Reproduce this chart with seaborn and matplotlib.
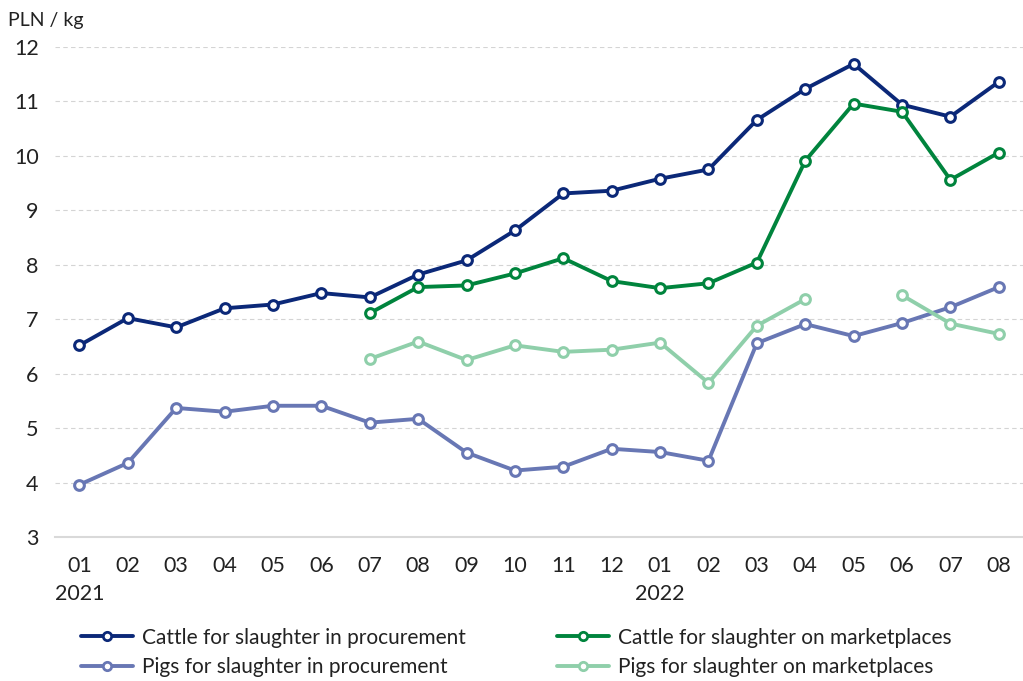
import numpy as np
import pandas as pd
import seaborn as sns
import matplotlib.pyplot as plt
from matplotlib.lines import Line2D

months = ['01', '02', '03', '04', '05', '06', '07', '08', '09', '10', '11', '12',
          '01', '02', '03', '04', '05', '06', '07', '08']
years = {0: '2021', 12: '2022'}

cattle_proc = [6.52, 7.02, 6.85, 7.20, 7.27, 7.48, 7.40, 7.82, 8.08, 8.63,
               9.31, 9.36, 9.58, 9.75, 10.66, 11.23, 11.69, 10.94, 10.72, 11.36]
cattle_market = [np.nan] * 6 + [7.11, 7.59, 7.62, 7.84, 8.12, 7.70, 7.57, 7.66,
                                8.04, 9.91, 10.96, 10.81, 9.56, 10.06]
pigs_proc = [3.96, 4.36, 5.37, 5.30, 5.41, 5.41, 5.10, 5.17, 4.55, 4.22,
             4.29, 4.62, 4.56, 4.40, 6.56, 6.91, 6.69, 6.93, 7.22, 7.59]
pigs_market = [np.nan] * 6 + [6.27, 6.59, 6.25, 6.52, 6.40, 6.44, 6.57, 5.83,
                              6.88, 7.37, np.nan, 7.44, 6.92, 6.73]

series = [
    ('Cattle for slaughter in procurement', cattle_proc, '#0b2878'),
    ('Cattle for slaughter on marketplaces', cattle_market, '#00843d'),
    ('Pigs for slaughter in procurement', pigs_proc, '#6877b4'),
    ('Pigs for slaughter on marketplaces', pigs_market, '#8fcfaa'),
]

sns.set_style('white')
plt.rcParams['font.family'] = ['Lato', 'DejaVu Sans']
plt.rcParams['text.color'] = '#222222'

fig = plt.figure(figsize=(10.23, 6.81), dpi=100)
ax = fig.add_axes([0.054, 0.2115, 0.946, 0.7195])

x = np.arange(len(months))
handles = {}
for name, vals, col in series:
    df = pd.DataFrame({'x': x, 'y': vals})
    # split into segments wherever there is a gap
    df['seg'] = df['y'].isna().cumsum()
    df = df.dropna()
    sns.lineplot(data=df, x='x', y='y', units='seg', estimator=None, ax=ax,
                 color=col, linewidth=2.8, marker='o', markersize=7,
                 markerfacecolor='white', markeredgecolor=col, markeredgewidth=2.2)
    handles[name] = Line2D([], [], color=col, linewidth=2.8, marker='o', markersize=6,
                           markerfacecolor='white', markeredgecolor=col,
                           markeredgewidth=2, label=name)

ax.set_xlim(-0.5, len(months) - 0.5)
ax.set_ylim(3, 12)
ax.set_yticks(range(3, 13))
ax.set_xticks(x)
ax.set_xticklabels([m + ('\n' + years[i] if i in years else '') for i, m in enumerate(months)],
                   linespacing=1.45)
ax.tick_params(axis='both', labelsize=15.5, length=0, colors='#222222')
ax.tick_params(axis='x', pad=14)
ax.tick_params(axis='y', pad=12)
ax.set_xlabel('')
ax.set_ylabel('')

ax.grid(axis='y', linestyle=(0, (4, 3)), color='#d4d4d4', linewidth=0.8)
ax.set_axisbelow(True)
for s in ['top', 'right', 'left']:
    ax.spines[s].set_visible(False)
ax.spines['bottom'].set_color('#d9d9d9')
ax.spines['bottom'].set_linewidth(1.5)

fig.text(0.008, 0.97, 'PLN / kg', fontsize=14, va='center', ha='left')

# legend fills column by column: reorder so rows read cattle / pigs
order = [series[0][0], series[2][0], series[1][0], series[3][0]]
fig.legend(handles=[handles[n] for n in order], loc='center left',
           bbox_to_anchor=(0.061, 0.042), ncol=2, frameon=False, fontsize=15,
           handlelength=2.5, handletextpad=0.4, columnspacing=4.4, labelspacing=0.45)

plt.savefig('out.png', dpi=100)
